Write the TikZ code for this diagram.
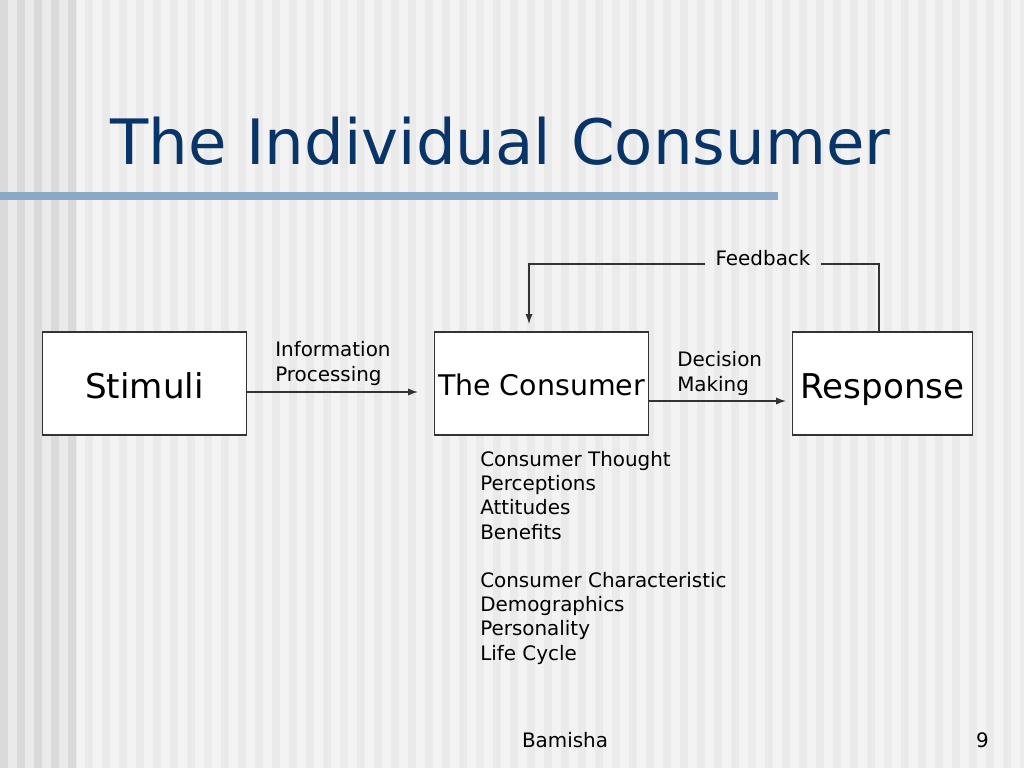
\documentclass[tikz,border=0pt]{standalone}
\usepackage{fontspec}
\setmainfont{DejaVu Sans}
\usetikzlibrary{arrows,arrows.meta,positioning}

\definecolor{titleblue}{RGB}{8,52,104}
\definecolor{barblue}{RGB}{139,168,200}
\definecolor{linegray}{RGB}{51,51,51}
\definecolor{bgright}{RGB}{243,243,243}
\definecolor{stripright}{RGB}{234,234,234}
\definecolor{bgleft}{RGB}{234,234,234}
\definecolor{stripleft}{RGB}{218,218,218}

\tikzset{
  box/.style={draw=linegray, line width=0.8pt, fill=white, minimum width=#1, minimum height=72.4pt, inner sep=0pt, text depth=0pt},
  lbl/.style={anchor=base west, inner sep=0pt, align=left, font=\fontsize{14}{17}\selectfont},
  arr/.style={-{Latex[length=7pt,width=5pt]}, draw=linegray, line width=0.8pt},
  fbline/.style={draw=linegray, line width=0.8pt}
}

\begin{document}
\begin{tikzpicture}[x=0.703125pt, y=-0.703125pt]
  \useasboundingbox (0,0) rectangle (1024,768);
  \clip (0,0) rectangle (1024,768);
  % background with stripes
  \fill[bgright] (0,0) rectangle (1024,768);
  \fill[bgleft] (0,0) rectangle (77,768);
  \foreach \i in {0,...,56} {
    \fill[stripright] ({77+\i*17+8},0) rectangle ({77+\i*17+16},768);
  }
  \foreach \i in {0,...,4} {
    \fill[stripleft] ({\i*17},0) rectangle ({\i*17+8},768);
  }

  % title and bar
  \node[anchor=base west, inner sep=0pt, text=titleblue, font=\fontsize{44}{52}\selectfont] (title) at (110,165) {The Individual Consumer};
  \fill[barblue] (0,192) rectangle (778,200);

  % boxes
  \node[box=144pt, text height=20.4pt, font=\fontsize{24}{28}\selectfont] (stim) at (144.5,383.5) {Stimuli};
  \node[box=150pt, text height=16.6pt, font=\fontsize{20}{24}\selectfont] (cons) at (541.5,383.5) {The Consumer};
  \node[box=126pt, text height=20.4pt, font=\fontsize{24}{28}\selectfont] (resp) at (882.5,383.5) {Response};

  % arrows between boxes
  \coordinate (ipend) at (418,392);
  \coordinate (dmend) at (786,401);
  \draw[arr] (stim.east |- ipend) -- (ipend);
  \draw[arr] (cons.east |- dmend) -- (dmend);
  \node[lbl] (info) at (275,381) {Information\\Processing};
  \node[lbl] (dec) at (677,391) {Decision\\Making};

  % feedback loop
  \node[font=\fontsize{14}{17}\selectfont, inner xsep=7pt, inner ysep=2pt] (fb) at (763,258) {Feedback};
  \coordinate (fbstart) at (879,332);
  \coordinate (fbend) at (529,324);
  \draw[fbline] (fbstart) |- ([yshift=-4.2pt]fb.east);
  \draw[arr] ([yshift=-4.2pt]fb.west) -| (fbend);

  % list under the consumer
  \node[lbl] (list) at (480,660) {Consumer Thought\\Perceptions\\Attitudes\\Benefits\\[17pt]
    Consumer Characteristic\\Demographics\\Personality\\Life Cycle};

  % footer
  \node[anchor=base, inner sep=0pt, font=\fontsize{14}{17}\selectfont] (foot) at (565,747) {Bamisha};
  \node[anchor=base east, inner sep=0pt, font=\fontsize{14}{17}\selectfont] (page) at (989,747) {9};
\end{tikzpicture}
\end{document}
